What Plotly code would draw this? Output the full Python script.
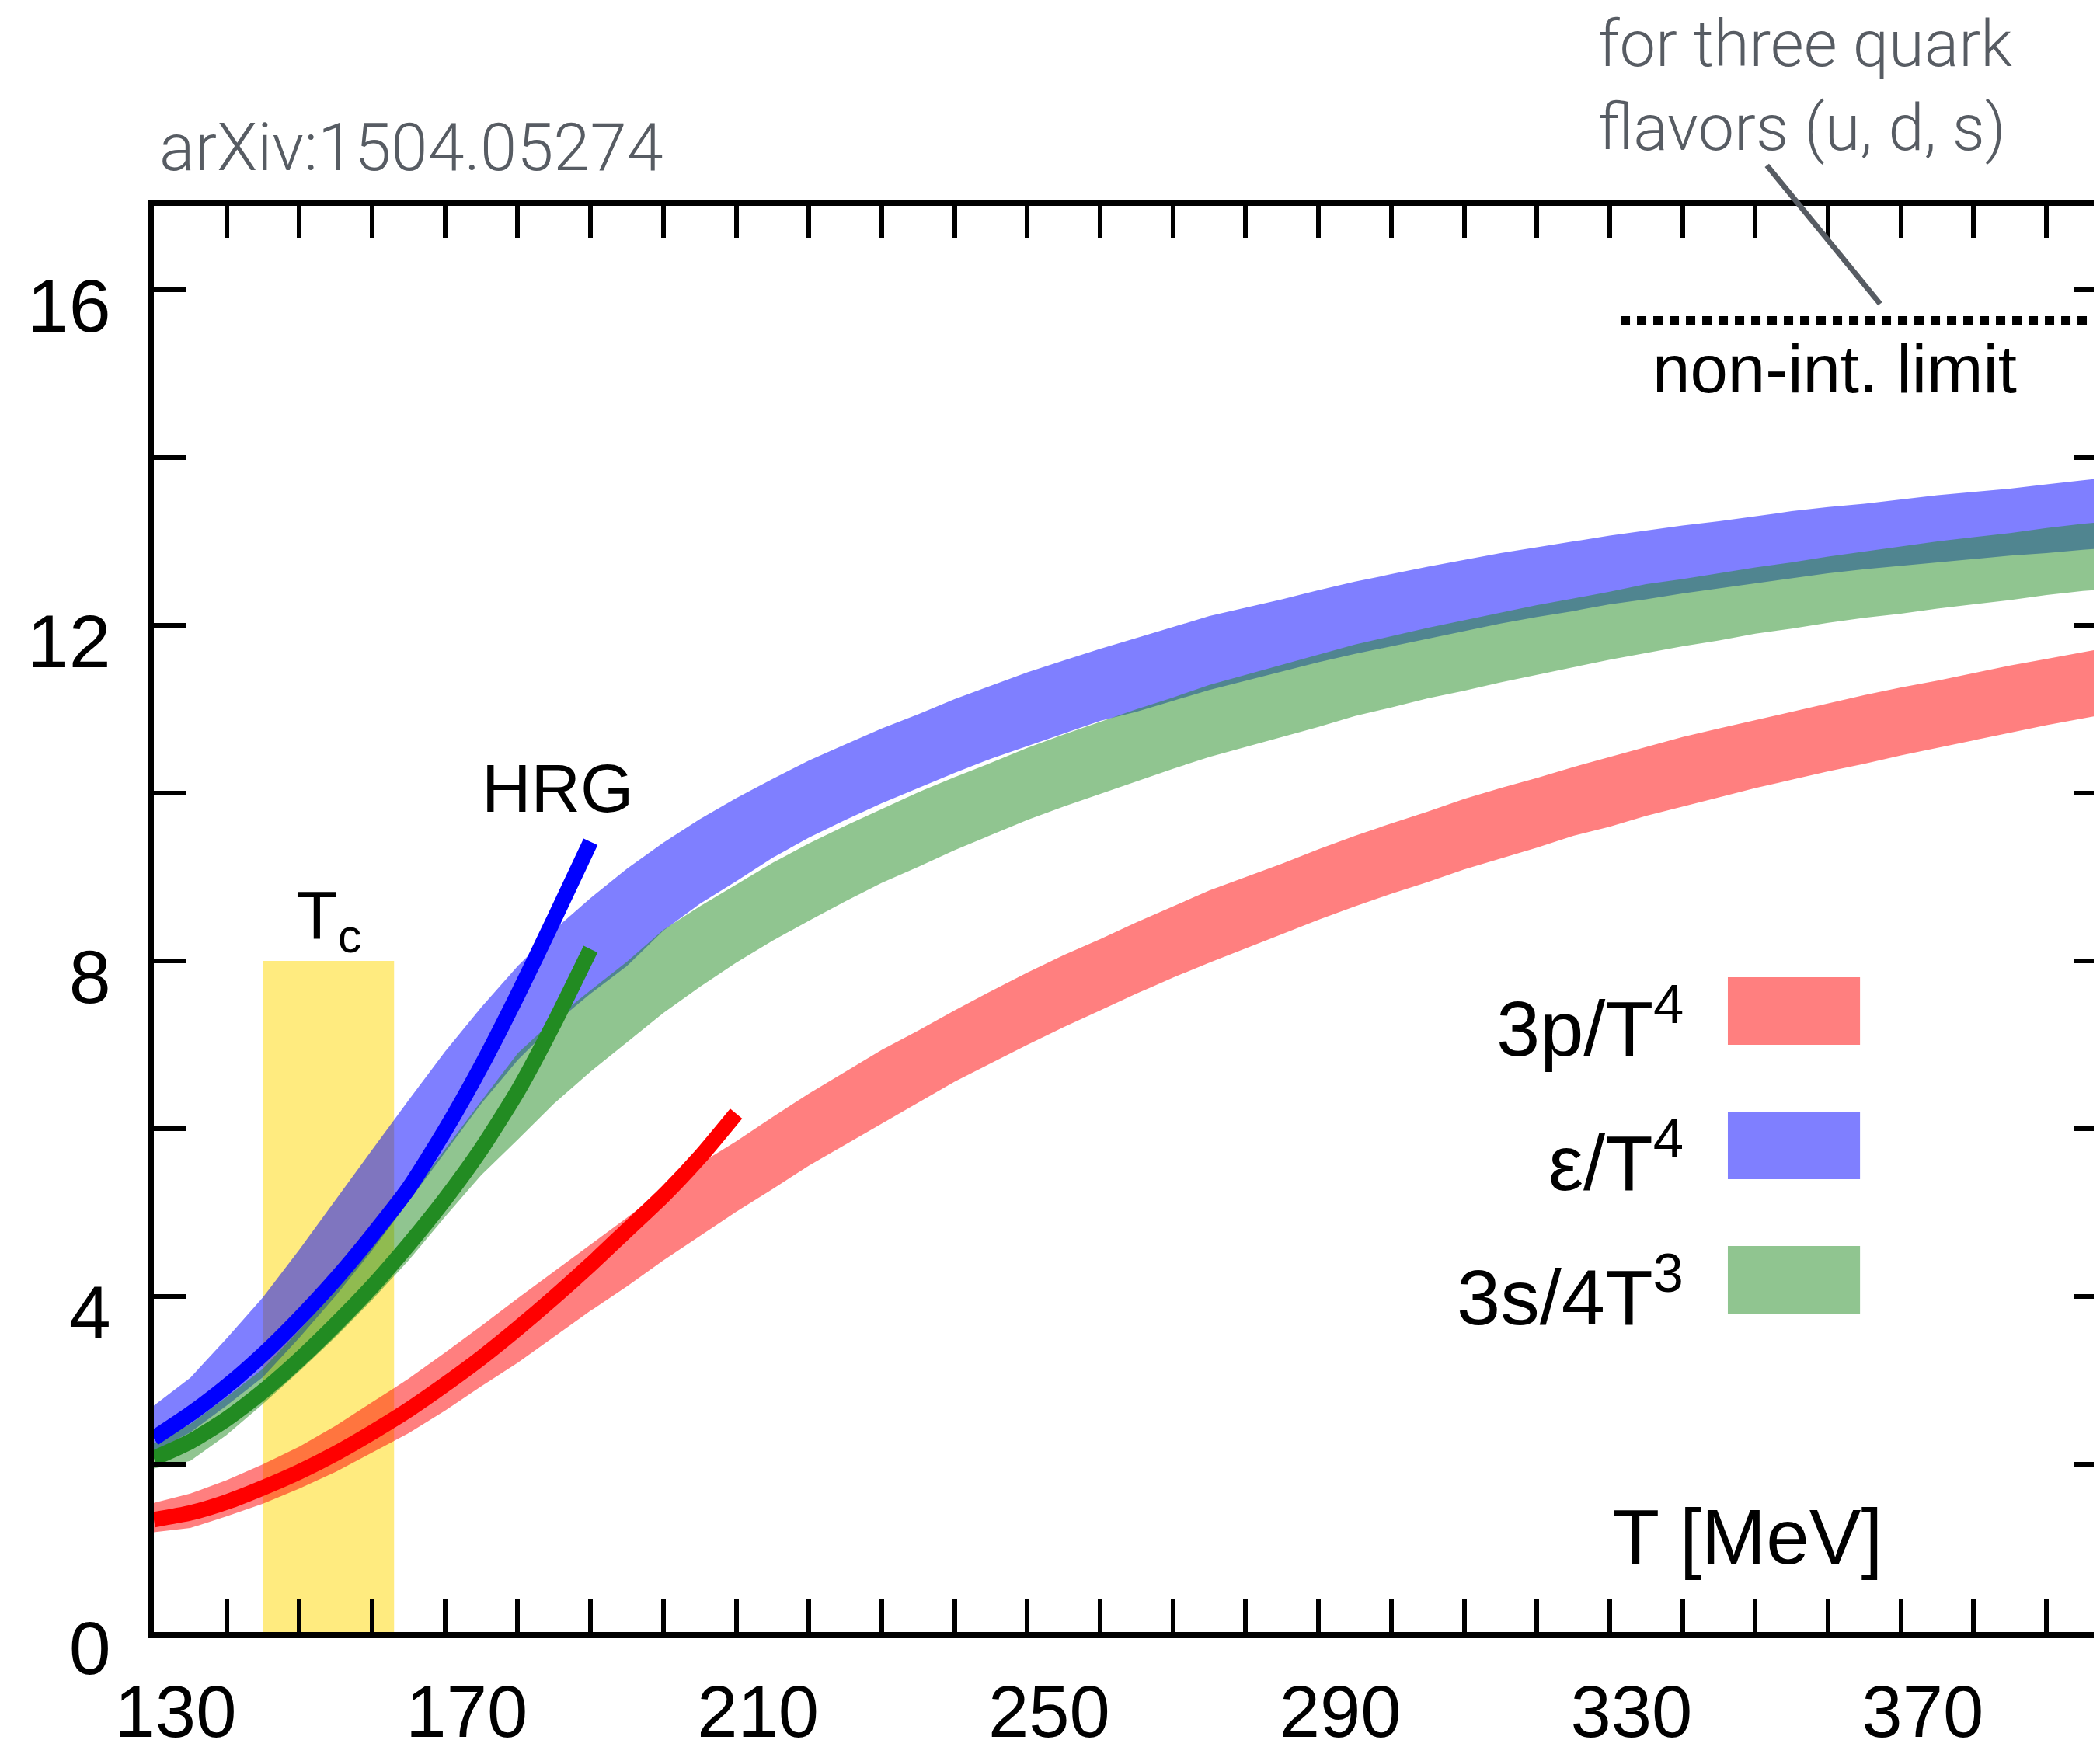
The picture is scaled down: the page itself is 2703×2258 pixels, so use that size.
import plotly.graph_objects as go

# ---------------- data ----------------
T = list(range(130, 405, 5))

p3_hi = [1.54, 1.65, 1.81, 2.00, 2.21, 2.46, 2.74, 3.02, 3.33, 3.65, 3.98, 4.30, 4.62, 4.94, 5.27,
         5.58, 5.85, 6.14, 6.42, 6.68, 6.94, 7.17, 7.41, 7.64, 7.86, 8.07, 8.26, 8.46, 8.65, 8.84,
         9.00, 9.16, 9.33, 9.49, 9.64, 9.78, 9.93, 10.06, 10.18, 10.31, 10.43, 10.55, 10.67, 10.77,
         10.87, 10.97, 11.07, 11.17, 11.26, 11.34, 11.43, 11.52, 11.60, 11.68, 11.76]
p3_lo = [1.19, 1.24, 1.38, 1.53, 1.71, 1.91, 2.14, 2.37, 2.64, 2.93, 3.21, 3.52, 3.83, 4.12, 4.43,
         4.72, 5.01, 5.28, 5.56, 5.81, 6.06, 6.31, 6.56, 6.78, 7.00, 7.21, 7.41, 7.61, 7.80, 7.98,
         8.15, 8.32, 8.49, 8.65, 8.80, 8.94, 9.09, 9.22, 9.35, 9.49, 9.60, 9.73, 9.84, 9.95,
         10.06, 10.16, 10.26, 10.35, 10.45, 10.54, 10.63, 10.72, 10.81, 10.89, 10.97]

e_hi = [2.70, 3.03, 3.50, 3.99, 4.56, 5.16, 5.75, 6.34, 6.92, 7.45, 7.94, 8.37, 8.75, 9.10, 9.41,
        9.69, 9.94, 10.17, 10.39, 10.58, 10.77, 10.94, 11.12, 11.28, 11.44, 11.58, 11.72, 11.85, 11.98, 12.11,
        12.21, 12.31, 12.42, 12.52, 12.61, 12.70, 12.78, 12.86, 12.93, 13.00, 13.07, 13.13, 13.19, 13.24,
        13.30, 13.36, 13.41, 13.45, 13.50, 13.55, 13.59, 13.63, 13.68, 13.73, 13.77]
e_lo = [2.15, 2.38, 2.70, 3.04, 3.51, 4.01, 4.55, 5.14, 5.72, 6.30, 6.82, 7.25, 7.61, 7.94, 8.36,
        8.68, 8.95, 9.23, 9.47, 9.68, 9.88, 10.06, 10.24, 10.41, 10.56, 10.71, 10.86, 10.97, 11.10, 11.23,
        11.34, 11.45, 11.56, 11.66, 11.75, 11.84, 11.93, 12.02, 12.10, 12.17, 12.25, 12.31, 12.38, 12.44,
        12.50, 12.56, 12.62, 12.67, 12.71, 12.75, 12.79, 12.83, 12.86, 12.90, 12.93]

s_hi = [2.25, 2.48, 2.80, 3.14, 3.60, 4.08, 4.60, 5.18, 5.76, 6.33, 6.90, 7.30, 7.65, 7.99, 8.37,
        8.65, 8.91, 9.17, 9.40, 9.61, 9.81, 10.01, 10.19, 10.36, 10.54, 10.70, 10.85, 11.00, 11.14, 11.29,
        11.41, 11.53, 11.65, 11.77, 11.87, 11.97, 12.06, 12.15, 12.24, 12.32, 12.40, 12.49, 12.55, 12.62,
        12.69, 12.75, 12.82, 12.88, 12.94, 13.00, 13.05, 13.10, 13.16, 13.21, 13.25]
s_lo = [1.95, 2.04, 2.35, 2.72, 3.11, 3.52, 3.96, 4.43, 4.95, 5.45, 5.87, 6.30, 6.68, 7.03, 7.38,
        7.69, 7.98, 8.24, 8.48, 8.71, 8.93, 9.12, 9.32, 9.50, 9.68, 9.84, 9.99, 10.14, 10.29, 10.43,
        10.55, 10.67, 10.79, 10.92, 11.02, 11.13, 11.22, 11.32, 11.41, 11.50, 11.59, 11.67, 11.75, 11.82,
        11.90, 11.96, 12.03, 12.09, 12.14, 12.20, 12.25, 12.30, 12.36, 12.41, 12.44]

hrg_T_short = [130, 135, 140, 145, 150, 155, 160, 165, 170, 175, 180, 185, 190]
hrg_T_long = [130, 135, 140, 145, 150, 155, 160, 165, 170, 175, 180, 185, 190, 195, 200, 205, 210]
hrg_e = [2.31, 2.60, 2.93, 3.31, 3.74, 4.21, 4.73, 5.29, 5.98, 6.75, 7.60, 8.50, 9.42]
hrg_s = [2.07, 2.27, 2.54, 2.87, 3.25, 3.67, 4.12, 4.62, 5.16, 5.76, 6.45, 7.26, 8.14]
hrg_p = [1.34, 1.42, 1.55, 1.72, 1.91, 2.13, 2.38, 2.65, 2.95, 3.27, 3.62, 3.99, 4.38, 4.79, 5.20, 5.66, 6.18]

sb_limit = 15.63
sb_T = [331.5, 400]
tc_range = [145, 163]
tc_top = 8

x_major = [130, 170, 210, 250, 290, 330, 370]
x_minor_step = 10
y_major = [0, 4, 8, 12, 16]
y_minor_step = 2
y_all = list(range(0, 17, 2))

series_names = ["3p/T<sup>4</sup>", "ε/T<sup>4</sup>", "3s/4T<sup>3</sup>"]

# ---------------- styling ----------------
RED_F = "rgba(255,0,0,0.5)"
BLUE_F = "rgba(0,0,255,0.5)"
GREEN_F = "rgba(34,139,34,0.5)"
GRAY = "#575c63"
FONT = "Liberation Sans, Arial, Helvetica, sans-serif"
LIGHT = "Roboto, Lato, Open Sans, sans-serif"

fig = go.Figure()


def band(lo, hi, color):
    fig.add_trace(go.Scatter(
        x=T + T[::-1], y=hi + lo[::-1], fill="toself", fillcolor=color,
        mode="lines", line=dict(width=0), hoverinfo="skip", showlegend=False))


band(p3_lo, p3_hi, RED_F)
band(e_lo, e_hi, BLUE_F)
band(s_lo, s_hi, GREEN_F)

for xs, ys, col in [(hrg_T_long, hrg_p, "#ff0000"),
                    (hrg_T_short, hrg_e, "#0000ff"),
                    (hrg_T_short, hrg_s, "#228b22")]:
    fig.add_trace(go.Scatter(x=xs, y=ys, mode="lines",
                             line=dict(color=col, width=20, shape="spline", smoothing=0.6),
                             hoverinfo="skip", showlegend=False))

fig.add_trace(go.Scatter(x=sb_T, y=[sb_limit, sb_limit], mode="lines",
                         line=dict(color="black", width=12, dash="12px,9px"),
                         hoverinfo="skip", showlegend=False))

# invisible trace for the right-hand tick axis
fig.add_trace(go.Scatter(x=[None], y=[None], yaxis="y2", showlegend=False, hoverinfo="skip"))

# Tc band
fig.add_shape(type="rect", xref="x", yref="y", x0=tc_range[0], x1=tc_range[1], y0=0, y1=tc_top,
              fillcolor="rgba(255,215,0,0.5)", line=dict(width=0), layer="below")

# legend swatches (paper coords)
sw_x0, sw_x1 = 0.8062, 0.8739
sw_rows = [(0.4118, 0.4592), (0.3175, 0.3649), (0.2233, 0.2707)]
for (y0, y1), col, name in zip(sw_rows, [RED_F, BLUE_F, GREEN_F], series_names):
    fig.add_shape(type="rect", xref="paper", yref="paper", x0=sw_x0, x1=sw_x1, y0=y0, y1=y1,
                  fillcolor=col, line=dict(width=0))
    fig.add_annotation(xref="paper", yref="paper", x=0.7845, y=(y0 + y1) / 2 - 0.008,
                       xanchor="right", yanchor="middle", text=name, showarrow=False,
                       font=dict(family=FONT, size=101, color="black"))

# leader line for gray note
fig.add_shape(type="line", xref="paper", yref="paper", x0=0.8262, y0=1.0284, x1=0.8842, y1=0.9313,
              line=dict(color=GRAY, width=7))

# texts
fig.add_annotation(xref="x", yref="y", x=185.5, y=10.06, text="HRG", showarrow=False,
                   xanchor="center", yanchor="middle", font=dict(family=FONT, size=88, color="black"))
fig.add_annotation(xref="x", yref="y", x=154.1, y=8.5, text="T<sub>c</sub>", showarrow=False,
                   xanchor="center", yanchor="middle", font=dict(family=FONT, size=88, color="black"))
fig.add_annotation(xref="x", yref="paper", x=360.9, y=(2093 - 466) / 1836, text="non-int. limit",
                   showarrow=False, xanchor="center", yanchor="middle",
                   font=dict(family=FONT, size=87, color="black"))
fig.add_annotation(xref="paper", yref="paper", x=0.8162, y=0.067, text="T [MeV]", showarrow=False,
                   xanchor="center", yanchor="middle", font=dict(family=FONT, size=100, color="black"))
fig.add_annotation(xref="paper", yref="paper", x=0.002, y=1.0408, text="arXiv:1504.05274",
                   showarrow=False, xanchor="left", yanchor="middle",
                   font=dict(family=LIGHT, size=85, color=GRAY, weight=300))
fig.add_annotation(xref="paper", yref="paper", x=0.7389, y=1.0839,
                   text="for three quark<br>flavors (u, d, s)", showarrow=False, align="left",
                   xanchor="left", yanchor="middle",
                   font=dict(family=LIGHT, size=83, color=GRAY, weight=300))

tick_style = dict(ticks="inside", ticklen=42, tickwidth=6, tickcolor="black")

fig.update_layout(
    template="none",
    width=2703, height=2258,
    margin=dict(l=190, r=0, t=257, b=165, pad=0),
    paper_bgcolor="white", plot_bgcolor="white",
    showlegend=False,
    xaxis=dict(range=[130, 398.2], tickmode="array", tickvals=x_major,
               showline=True, linewidth=8, linecolor="black", mirror="ticks",
               showgrid=False, zeroline=False,
               minor=dict(tick0=x_major[0], dtick=x_minor_step, showgrid=False, **tick_style),
               tickfont=dict(family=FONT, size=94, color="black"),
               ticklabelstandoff=14, ticklabelshift=28, **tick_style),
    yaxis=dict(range=[0, 17], tickmode="array", tickvals=y_major,
               showline=True, linewidth=8, linecolor="black", mirror=False,
               showgrid=False, zeroline=False,
               minor=dict(tick0=0, dtick=y_minor_step, showgrid=False, **tick_style),
               tickfont=dict(family=FONT, size=97, color="black"),
               ticklabelstandoff=28, ticklabelshift=20, **tick_style),
    yaxis2=dict(range=[0, 17], overlaying="y", side="right", anchor="x", tickmode="array",
                tickvals=y_all, showticklabels=False, showline=False,
                showgrid=False, zeroline=False, **tick_style),
)

fig.write_html("out.html")
